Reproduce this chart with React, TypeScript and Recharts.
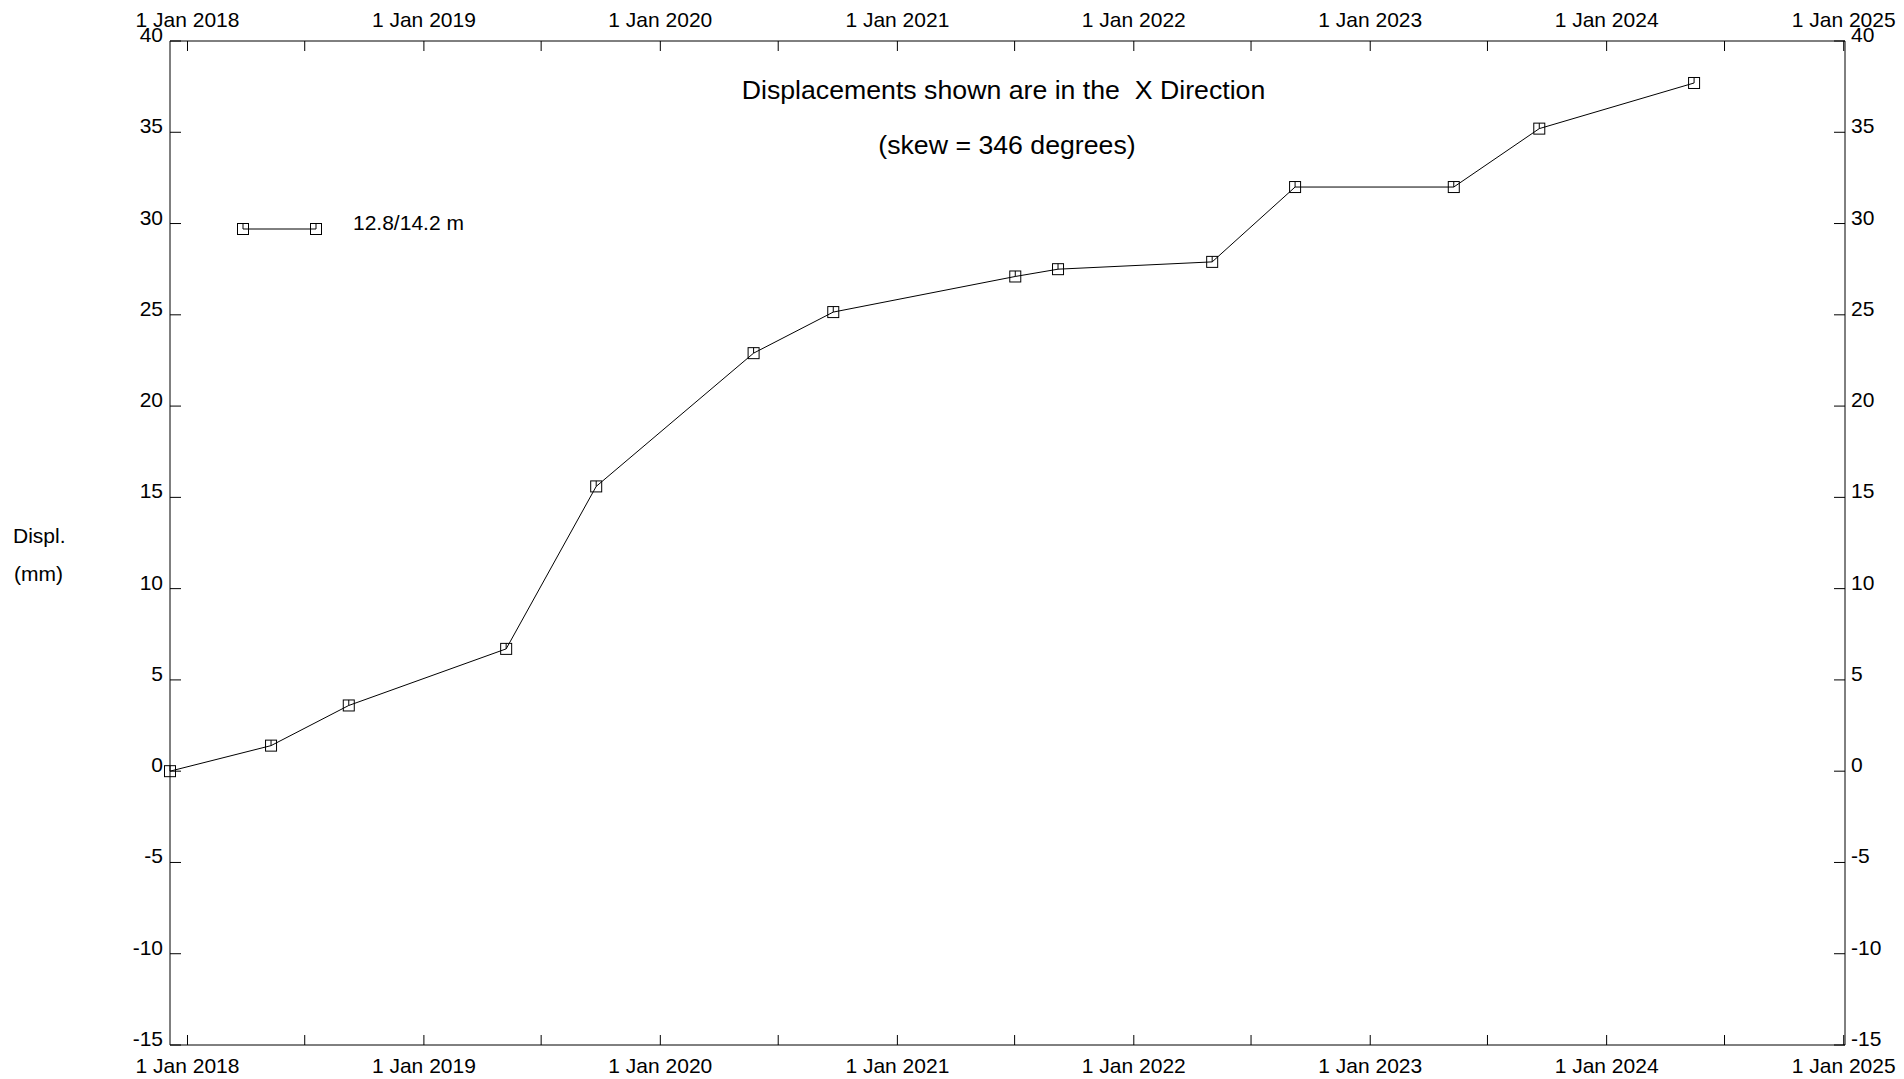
import { LineChart, Line, XAxis, YAxis, Legend } from "recharts";

// inclinometer readings, X direction
const readingDates = [
  "2017-12-05",
  "2018-05-10",
  "2018-09-07",
  "2019-05-08",
  "2019-09-24",
  "2020-05-24",
  "2020-09-24",
  "2021-07-02",
  "2021-09-06",
  "2022-05-02",
  "2022-09-07",
  "2023-05-10",
  "2023-09-19",
  "2024-05-15",
];
const displacementX = [0, 1.4, 3.6, 6.7, 15.6, 22.9, 25.15, 27.1, 27.5, 27.9, 32.0, 32.0, 35.2, 37.7];

const seriesName = "12.8/14.2 m";
const yTicks = [-15, -10, -5, 0, 5, 10, 15, 20, 25, 30, 35, 40];
const xTickDates = [
  "2018-01-01", "2018-07-01",
  "2019-01-01", "2019-07-01",
  "2020-01-01", "2020-07-01",
  "2021-01-01", "2021-07-01",
  "2022-01-01", "2022-07-01",
  "2023-01-01", "2023-07-01",
  "2024-01-01", "2024-07-01",
  "2025-01-01",
];
const xDomain = ["2017-12-05", "2025-01-03"];

const data = readingDates.map((d, i) => ({ t: Date.parse(d), disp: displacementX[i] }));
const xTicks = xTickDates.map((d) => Date.parse(d));
const xRange = xDomain.map((d) => Date.parse(d));

const MONTHS = ["Jan", "Feb", "Mar", "Apr", "May", "Jun", "Jul", "Aug", "Sep", "Oct", "Nov", "Dec"];
const FONT = "'Liberation Sans', Arial, Helvetica, sans-serif";

// only the 1 Jan ticks carry a label
const dateLabel = (v: number) => {
  const d = new Date(v);
  if (d.getUTCMonth() !== 0) return "";
  return `${d.getUTCDate()} ${MONTHS[d.getUTCMonth()]} ${d.getUTCFullYear()}`;
};

// ticks point into the plot, labels sit outside
const BottomTick = ({ x, y, payload }: any) => (
  <g>
    <line x1={x} x2={x} y1={y} y2={y - 10} stroke="#000" />
    <text x={x} y={y + 28} textAnchor="middle" fontSize={21} fontFamily={FONT} fill="#000">
      {dateLabel(payload.value)}
    </text>
  </g>
);

const TopTick = ({ x, y, payload }: any) => (
  <g>
    <line x1={x} x2={x} y1={y} y2={y + 10} stroke="#000" />
    <text x={x} y={y - 14} textAnchor="middle" fontSize={21} fontFamily={FONT} fill="#000">
      {dateLabel(payload.value)}
    </text>
  </g>
);

const LeftTick = ({ x, y, payload }: any) => (
  <g>
    <line x1={x} x2={x + 11} y1={y} y2={y} stroke="#000" />
    <text x={x - 7} y={y + 1} textAnchor="end" fontSize={21} fontFamily={FONT} fill="#000">
      {payload.value}
    </text>
  </g>
);

const RightTick = ({ x, y, payload }: any) => (
  <g>
    <line x1={x} x2={x - 11} y1={y} y2={y} stroke="#000" />
    <text x={x + 6} y={y + 1} textAnchor="start" fontSize={21} fontFamily={FONT} fill="#000">
      {payload.value}
    </text>
  </g>
);

// open square with a short tick from the top edge to the centre
const ReadingMarker = ({ cx, cy, index }: any) => {
  if (cx == null || cy == null) return null;
  return (
    <g key={`m-${index}`}>
      <rect x={cx - 5.5} y={cy - 5.5} width={11} height={11} fill="none" stroke="#000" strokeWidth={1} />
      <line x1={cx} x2={cx} y1={cy - 5.5} y2={cy} stroke="#000" strokeWidth={1} />
    </g>
  );
};

const LegendContent = () => (
  <svg width={240} height={40} style={{ overflow: "visible" }}>
    <line x1={13} x2={86} y1={15} y2={15} stroke="#000" />
    <ReadingMarker cx={13} cy={15} index={0} />
    <ReadingMarker cx={86} cy={15} index={1} />
    <text x={123} y={16} fontSize={21} fontFamily={FONT} fill="#000">
      {seriesName}
    </text>
  </svg>
);

export default function App() {
  return (
    <div style={{ position: "absolute", left: 0, top: 0, width: 1904, height: 1079, background: "#fff" }}>
      <LineChart width={1904} height={1079} data={data} margin={{ top: 11, right: 4, bottom: 4, left: 110 }}>
        <XAxis
          xAxisId="bottom"
          dataKey="t"
          type="number"
          scale="linear"
          domain={xRange}
          ticks={xTicks}
          interval={0}
          height={30}
          tickSize={0}
          tickMargin={0}
          tick={<BottomTick />}
          axisLine={{ stroke: "#000" }}
        />
        {/* mirror axes carry no series, so they need the fixed domain forced */}
        <XAxis
          xAxisId="top"
          orientation="top"
          dataKey="t"
          type="number"
          scale="linear"
          domain={xRange}
          ticks={xTicks}
          interval={0}
          height={30}
          tickSize={0}
          tickMargin={0}
          tick={<TopTick />}
          axisLine={{ stroke: "#000" }}
          allowDataOverflow
        />
        <YAxis
          yAxisId="left"
          type="number"
          domain={[-15, 40]}
          ticks={yTicks}
          interval={0}
          width={60}
          tickSize={0}
          tickMargin={0}
          tick={<LeftTick />}
          axisLine={{ stroke: "#000" }}
        />
        <YAxis
          yAxisId="right"
          orientation="right"
          type="number"
          domain={[-15, 40]}
          ticks={yTicks}
          interval={0}
          width={55}
          tickSize={0}
          tickMargin={0}
          tick={<RightTick />}
          axisLine={{ stroke: "#000" }}
          allowDataOverflow
        />
        <Legend
          layout="horizontal"
          verticalAlign="middle"
          align="center"
          content={<LegendContent />}
          wrapperStyle={{ left: 230, top: 214, width: 240, height: 40 }}
        />
        <Line
          xAxisId="bottom"
          yAxisId="left"
          dataKey="disp"
          name={seriesName}
          type="linear"
          stroke="#000"
          strokeWidth={1}
          dot={<ReadingMarker />}
          activeDot={false}
          isAnimationActive={false}
        />
      </LineChart>
      <svg
        width={1904}
        height={1079}
        style={{ position: "absolute", left: 0, top: 0, pointerEvents: "none" }}
      >
        <text x={1003.5} y={99} textAnchor="middle" fontSize={26.7} fontFamily={FONT} fill="#000" style={{ whiteSpace: "pre" }}>
          {"Displacements shown are in the  X Direction"}
        </text>
        <text x={1007} y={154} textAnchor="middle" fontSize={26.7} fontFamily={FONT} fill="#000">
          (skew = 346 degrees)
        </text>
        <text x={13} y={542.5} fontSize={21} fontFamily={FONT} fill="#000">
          Displ.
        </text>
        <text x={14} y={581} fontSize={21} fontFamily={FONT} fill="#000">
          (mm)
        </text>
      </svg>
    </div>
  );
}
